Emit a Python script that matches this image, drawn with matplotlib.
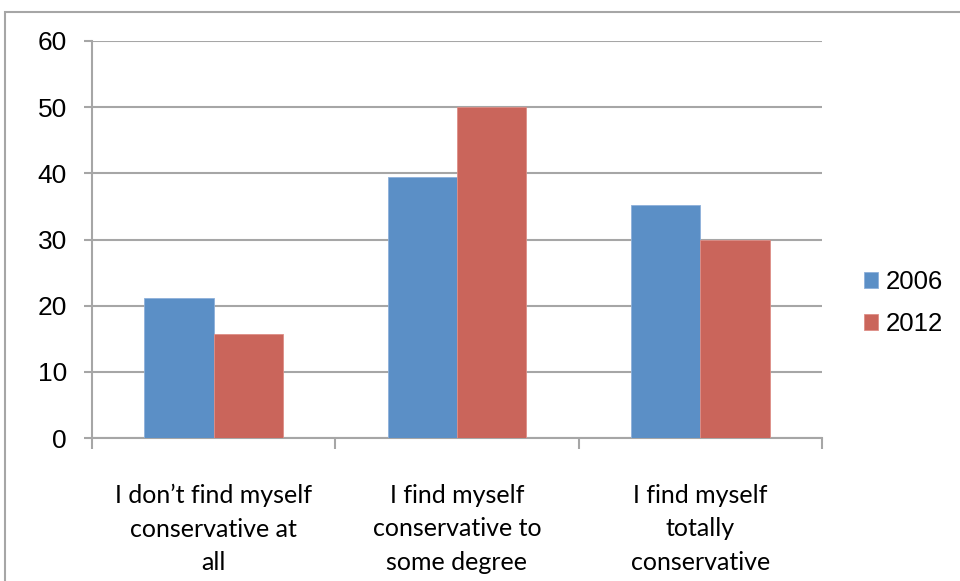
import numpy as np
import matplotlib.pyplot as plt
from matplotlib.patches import Rectangle

## Data
categories = ["I don\u2019t find myself\nconservative at\nall",
              "I find myself\nconservative to\nsome degree",
              "I find myself\ntotally\nconservative"]
years = ["2006", "2012"]
v2006 = [21.1, 39.5, 35.2]
v2012 = [15.7, 50.0, 30.0]

## Style
c_blue = '#5B8FC6'
c_red = '#CA655B'
c_grid = '#A6A6A6'

fig = plt.figure(figsize=(9.6, 5.81), dpi=100)
ax = fig.add_axes([92/960, 1-438/581, (822-92)/960, (438-41)/581])

x = np.arange(len(categories))
w = 0.285
ax.bar(x - w/2, v2006, w, color=c_blue, edgecolor='#8DB0DA', linewidth=0.6, label=years[0], zorder=3)
ax.bar(x + w/2, v2012, w, color=c_red, edgecolor='#DE8E86', linewidth=0.6, label=years[1], zorder=3)

ax.set_xlim(-0.5, 2.5)
ax.set_ylim(0, 60)
ax.set_yticks(np.arange(0, 61, 10))
ax.yaxis.grid(True, color=c_grid, linewidth=1.5, zorder=0)

for s in ['top', 'right']:
    ax.spines[s].set_visible(False)
for s in ['left', 'bottom']:
    ax.spines[s].set_color(c_grid)
    ax.spines[s].set_linewidth(1.5)

ax.tick_params(axis='y', length=6, width=1.5, color=c_grid, pad=12,
               labelsize=19, labelfontfamily='Liberation Sans')
ax.set_xticks(x)
ax.set_xticklabels(categories, fontsize=18, family='Lato', linespacing=1.55)
ax.set_xticks([-0.5, 0.5, 1.5, 2.5], minor=True)
ax.tick_params(axis='x', which='major', length=0, pad=33)
ax.tick_params(axis='x', which='minor', length=8, width=1.5, color=c_grid)

leg = ax.legend(loc='center left', bbox_to_anchor=(851/960, 1-303/581),
                bbox_transform=fig.transFigure, frameon=False,
                prop={'family': 'Liberation Sans', 'size': 18.5},
                handlelength=0.55, handleheight=0.55, handletextpad=0.3,
                labelspacing=0.7, borderpad=0)

# outer chart frame
fig.patches.append(Rectangle((4.5/960, -0.1), 1.2, 1 - 11.5/581 + 0.1,
                             transform=fig.transFigure, fill=False,
                             edgecolor=c_grid, linewidth=1.5))

plt.savefig('out.png', dpi=100)
